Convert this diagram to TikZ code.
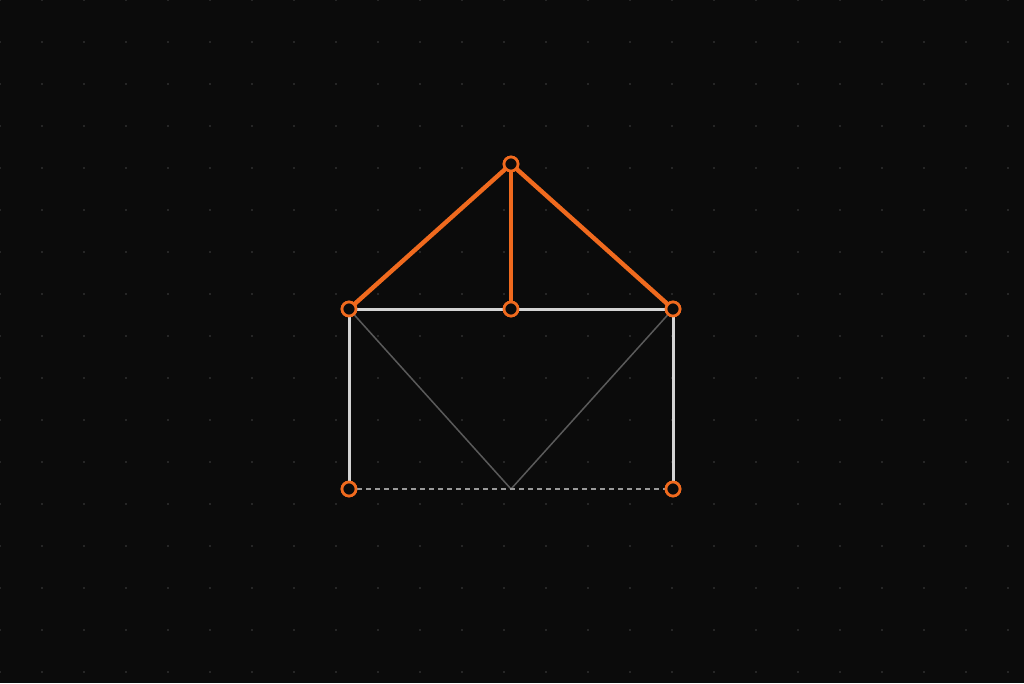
\documentclass[tikz,border=0pt]{standalone}
\definecolor{bg}{HTML}{0B0B0B}
\definecolor{griddot}{HTML}{313131}
\definecolor{org}{HTML}{F06A1E}
\definecolor{wht}{HTML}{D4D4D4}
\definecolor{gry}{HTML}{5A5A5A}
\definecolor{dsh}{HTML}{9A9A9A}
\begin{document}
\begin{tikzpicture}[x=1pt,y=-1pt,
  joint/.style={circle,draw=org,fill=bg,line width=2.7pt,minimum size=14pt,inner sep=0pt},
  roof/.style={draw=org,line width=4.4pt,line cap=round},
  wall/.style={draw=wht,line width=3pt},
  brace/.style={draw=gry,line width=1.5pt},
  base/.style={draw=dsh,line width=1.6pt,dash pattern=on 4.5pt off 4.5pt}]
\fill[bg] (0,0) rectangle (1024,683);
\useasboundingbox (0,0) rectangle (1024,683);
\foreach \i in {0,...,24}{\foreach \j in {0,...,16}{
  \fill[griddot] (\i*42,\j*42) circle (1.2pt);}}
\coordinate (bm) at (511,489);
\node[joint] (top) at (511,164) {};
\node[joint] (l) at (349,309) {};
\node[joint] (m) at (511,309) {};
\node[joint] (r) at (673,309) {};
\node[joint] (bl) at (349,489) {};
\node[joint] (br) at (673,489) {};
\draw[brace] (l.center) -- (bm) -- (r.center);
\draw[base] (bl) -- (br);
\draw[wall] (bl) -- (l) -- (m) -- (r) -- (br);
\draw[roof] (l) -- (top) -- (r);
\draw[roof] (top) -- (m);
\foreach \n in {top,l,m,r,bl,br}{\node[joint] at (\n) {};}
\end{tikzpicture}
\end{document}
